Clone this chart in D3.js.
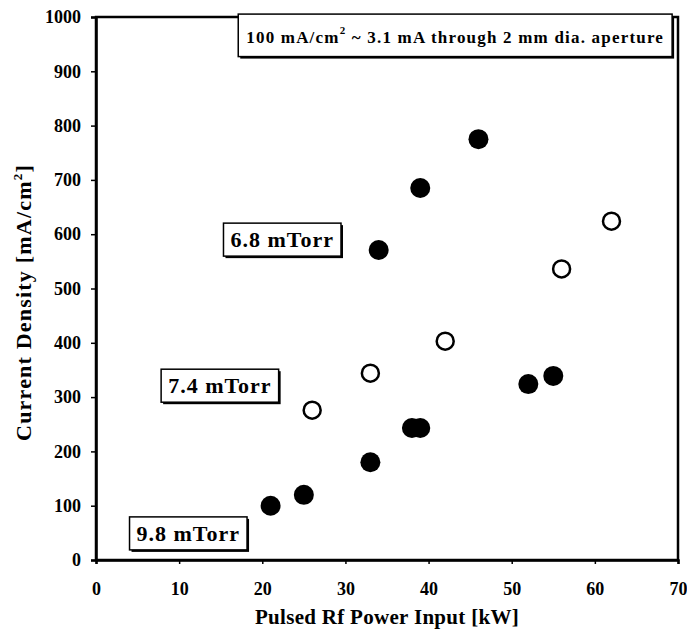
<!DOCTYPE html>
<html>
<head>
<meta charset="utf-8">
<script src="https://cdn.jsdelivr.net/npm/d3@7"></script>
<style>
  body { margin: 0; background: #fff; }
  text { font-family: "Liberation Serif", "Times New Roman", serif; font-weight: bold; fill: #000; }
</style>
</head>
<body>
<div id="chart"></div>
<script>
// Pulsed Rf power [kW] vs current density [mA/cm2]
const p68 = [34, 39, 46]
const j68 = [571, 685, 775]

const p74 = [26, 33, 42, 56, 62]
const j74 = [276, 344, 403, 536, 624]

const p98 = [21, 25, 33, 38, 39, 52, 55]
const j98 = [100, 120, 180, 243, 243, 324, 339]

const xTicks = [0, 10, 20, 30, 40, 50, 60, 70]
const yTicks = [0, 100, 200, 300, 400, 500, 600, 700, 800, 900, 1000]

// label boxes, centred at data coordinates
const labelText = ['6.8 mTorr', '7.4 mTorr', '9.8 mTorr']
const labelX = [22.4, 14.9, 11.1]
const labelY = [590, 321, 49]

const noteText = '100 mA/cm'
const noteX = 43.2
const noteY = 963

const W = 687, H = 631
var margin = { top: 17, right: 9, bottom: 71, left: 96 },
    width = W - margin.left - margin.right,
    height = H - margin.top - margin.bottom

var svg = d3.select('#chart').append('svg')
    .attr('width', W)
    .attr('height', H)
  .append('g')
    .attr('transform', 'translate(' + margin.left + ',' + margin.top + ')')

var x = d3.scaleLinear().domain([0, 70]).range([0, width])
var y = d3.scaleLinear().domain([0, 1000]).range([height, 0])

// frame
svg.append('rect')
    .attr('width', width).attr('height', height)
    .attr('fill', 'none').attr('stroke', '#000').attr('stroke-width', 2.5)

var xAxis = svg.append('g')
    .attr('transform', 'translate(0,' + height + ')')
    .call(d3.axisBottom(x).tickValues(xTicks).tickSize(4).tickPadding(18))
var yAxis = svg.append('g')
    .call(d3.axisLeft(y).tickValues(yTicks).tickFormat(d3.format('d')).tickSize(5).tickPadding(10))

;[xAxis, yAxis].forEach(function(a) {
  a.select('.domain').attr('stroke-width', 2.5)
  a.selectAll('.tick line').attr('stroke-width', 1.5)
  a.selectAll('text')
    .style('font-family', '"Liberation Serif", serif')
    .style('font-weight', 'bold')
    .style('font-size', '18px')
})

// axis titles
svg.append('text')
    .attr('x', width / 2).attr('y', height + 64)
    .attr('text-anchor', 'middle')
    .style('font-size', '21px')
    .style('letter-spacing', '0.3px')
    .text('Pulsed Rf Power Input [kW]')

var yt = svg.append('text')
    .attr('transform', 'translate(' + (-65) + ',' + (height / 2 + 14) + ') rotate(-90)')
    .attr('text-anchor', 'middle')
    .style('font-size', '22px')
    .style('letter-spacing', '1.2px')
yt.append('tspan').text('Current Density [mA/cm')
yt.append('tspan').attr('dy', -9).style('font-size', '13px').text('2')
yt.append('tspan').attr('dy', 9).text(']')

// markers
function series(px, py, filled) {
  svg.append('g').selectAll('circle')
      .data(px.map(function(d, i) { return [d, py[i]] }))
    .enter().append('circle')
      .attr('cx', function(d) { return x(d[0]) })
      .attr('cy', function(d) { return y(d[1]) })
      .attr('r', filled ? 10 : 8.5)
      .attr('fill', filled ? '#000' : '#fff')
      .attr('stroke', '#000')
      .attr('stroke-width', filled ? 0 : 2.5)
}
series(p68, j68, true)
series(p74, j74, false)
series(p98, j98, true)

// boxed labels
function boxLabel(cx, cy, build, size, spacing, padX, padY) {
  var g = svg.append('g')
  var t = g.append('text')
      .attr('x', x(cx)).attr('y', y(cy))
      .attr('text-anchor', 'middle')
      .attr('dominant-baseline', 'central')
      .style('font-size', size + 'px')
      .style('letter-spacing', spacing + 'px')
  build(t)
  var b = t.node().getBBox()
  g.insert('rect', 'text')
      .attr('x', b.x - padX + 2).attr('y', b.y - padY + 2)
      .attr('width', b.width + 2 * padX).attr('height', b.height + 2 * padY)
      .attr('fill', '#000')
  g.insert('rect', 'text')
      .attr('x', b.x - padX).attr('y', b.y - padY)
      .attr('width', b.width + 2 * padX).attr('height', b.height + 2 * padY)
      .attr('fill', '#fff').attr('stroke', '#000').attr('stroke-width', 1.5)
}

labelText.forEach(function(s, i) {
  boxLabel(labelX[i], labelY[i], function(t) { t.text(s) }, 22, 1, 7, 4)
})

boxLabel(noteX, noteY, function(t) {
  t.append('tspan').text(noteText)
  t.append('tspan').attr('dy', -7).style('font-size', '11px').text('2')
  t.append('tspan').attr('dy', 7).text(' ~ 3.1 mA through 2 mm dia. aperture')
}, 17, 1.2, 8, 10)
</script>
</body>
</html>
